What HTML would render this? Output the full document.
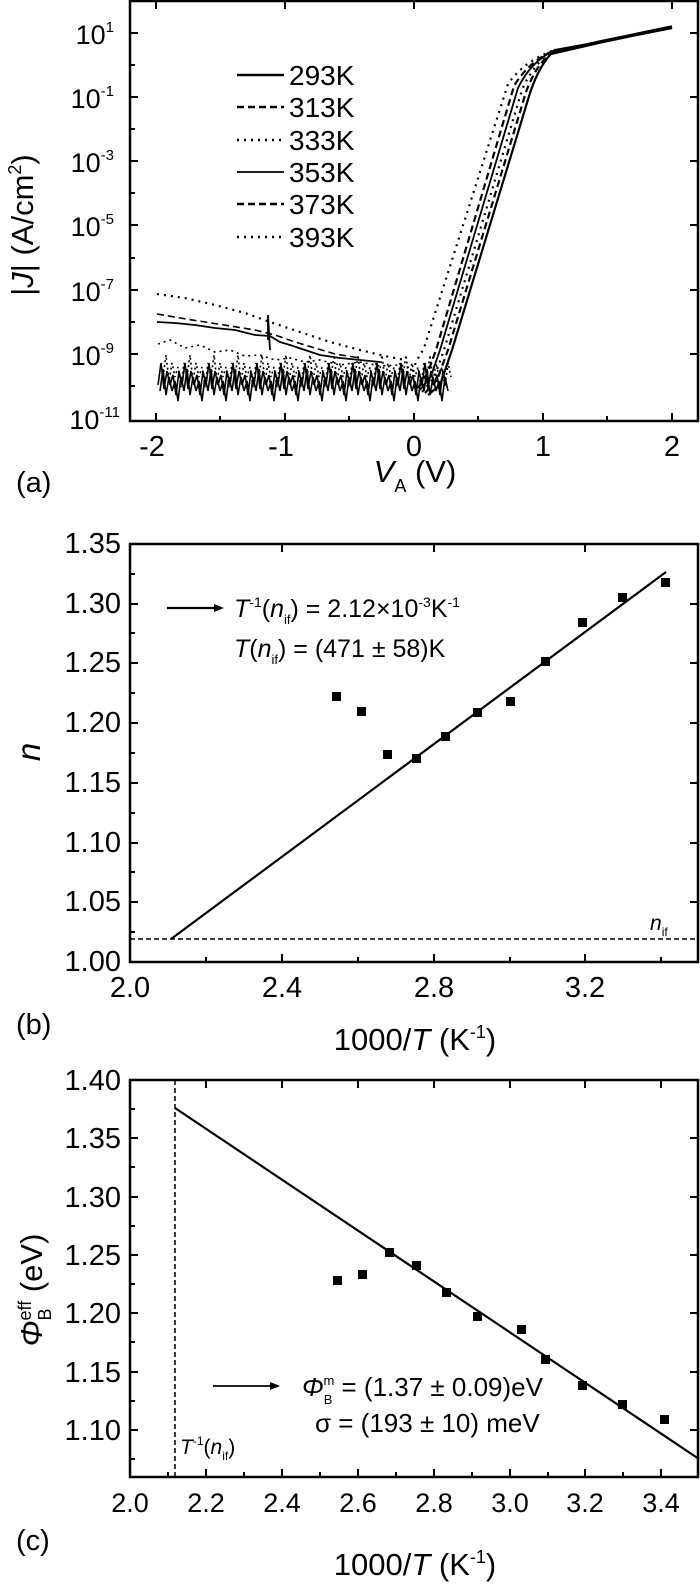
<!DOCTYPE html>
<html><head><meta charset="utf-8"><style>
html,body{margin:0;padding:0;background:#fff;}
svg{display:block;font-family:"Liberation Sans",Arial,sans-serif;}
</style></head><body>
<svg width="700" height="1587" viewBox="0 0 700 1587" xmlns="http://www.w3.org/2000/svg">
<!-- ===== Panel (a) ===== -->
<rect x="130" y="1" width="568" height="420" fill="none" stroke="#000" stroke-width="2.5"/>
<g stroke="#000" stroke-width="2">
<line x1="156" y1="421" x2="156" y2="413"/><line x1="285" y1="421" x2="285" y2="413"/><line x1="414" y1="421" x2="414" y2="413"/><line x1="543" y1="421" x2="543" y2="413"/><line x1="672" y1="421" x2="672" y2="413"/>
<line x1="220" y1="421" x2="220" y2="416"/><line x1="349" y1="421" x2="349" y2="416"/><line x1="478" y1="421" x2="478" y2="416"/><line x1="607" y1="421" x2="607" y2="416"/>
<line x1="156" y1="1" x2="156" y2="9"/><line x1="285" y1="1" x2="285" y2="9"/><line x1="414" y1="1" x2="414" y2="9"/><line x1="543" y1="1" x2="543" y2="9"/><line x1="672" y1="1" x2="672" y2="9"/>
<line x1="130" y1="33" x2="138" y2="33"/><line x1="130" y1="97" x2="138" y2="97"/><line x1="130" y1="161" x2="138" y2="161"/><line x1="130" y1="225" x2="138" y2="225"/><line x1="130" y1="290" x2="138" y2="290"/><line x1="130" y1="354" x2="138" y2="354"/>
<line x1="130" y1="65" x2="135" y2="65"/><line x1="130" y1="129" x2="135" y2="129"/><line x1="130" y1="193" x2="135" y2="193"/><line x1="130" y1="258" x2="135" y2="258"/><line x1="130" y1="322" x2="135" y2="322"/><line x1="130" y1="386" x2="135" y2="386"/>
<line x1="698" y1="33" x2="690" y2="33"/><line x1="698" y1="97" x2="690" y2="97"/><line x1="698" y1="161" x2="690" y2="161"/><line x1="698" y1="225" x2="690" y2="225"/><line x1="698" y1="290" x2="690" y2="290"/><line x1="698" y1="354" x2="690" y2="354"/>
</g>
<g font-size="27" fill="#000" text-anchor="end">
<text x="114" y="44">10<tspan font-size="15" dy="-12">1</tspan></text>
<text x="114" y="108">10<tspan font-size="15" dy="-12">-1</tspan></text>
<text x="114" y="172">10<tspan font-size="15" dy="-12">-3</tspan></text>
<text x="114" y="236">10<tspan font-size="15" dy="-12">-5</tspan></text>
<text x="114" y="301">10<tspan font-size="15" dy="-12">-7</tspan></text>
<text x="114" y="365">10<tspan font-size="15" dy="-12">-9</tspan></text>
<text x="120" y="429">10<tspan font-size="15" dy="-12">-11</tspan></text>
</g>
<g font-size="29" fill="#000" text-anchor="middle">
<text x="152" y="456">-2</text><text x="281" y="456">-1</text><text x="414" y="456">0</text><text x="543" y="456">1</text><text x="672" y="456">2</text>
</g>
<text x="16" y="492" font-size="29">(a)</text>
<text x="415" y="482" font-size="31" text-anchor="middle"><tspan font-style="italic">V</tspan><tspan font-size="18" dy="10">A</tspan><tspan dy="-10"> (V)</tspan></text>
<text transform="translate(33,225) rotate(-90)" font-size="31" text-anchor="middle">|<tspan font-style="italic">J</tspan>| (A/cm<tspan font-size="18" dy="-12">2</tspan><tspan dy="12">)</tspan></text>
<g stroke="#000" stroke-width="2.5">
<line x1="237" y1="75" x2="284" y2="75"/>
<line x1="237" y1="107" x2="284" y2="107" stroke-dasharray="7,4"/>
<line x1="237" y1="140" x2="284" y2="140" stroke-dasharray="2,5"/>
<line x1="237" y1="172" x2="284" y2="172" stroke-width="1.8"/>
<line x1="237" y1="204" x2="284" y2="204" stroke-dasharray="7,4"/>
<line x1="237" y1="237" x2="284" y2="237" stroke-dasharray="2,5"/>
</g>
<g font-size="28" fill="#000">
<text x="289" y="85">293K</text><text x="289" y="117">313K</text><text x="289" y="150">333K</text><text x="289" y="182">353K</text><text x="289" y="214">373K</text><text x="289" y="247">393K</text>
</g>
<g fill="none" stroke="#000" stroke-width="2.2">
<path d="M428,395 L440,385 L452,350 L530,93 Q540,63 555,50 L600,42 L672,28"/>
<path d="M425,393 L437,380 L448,350 L526,92 Q537,62 555,50" stroke-dasharray="7,4"/>
<path d="M422,392 L434,378 L444,350 L522,90 Q534,62 555,50" stroke-dasharray="2,5"/>
<path d="M420,390 L431,376 L440,350 L518,88 Q531,61 555,50" stroke-width="1.8"/>
<path d="M418,388 L428,372 L436,350 L514,86 Q529,61 555,50" stroke-dasharray="7,4"/>
<path d="M410,378 L416,362 L424,348 L508,84 Q525,60 555,50" stroke-dasharray="2,5"/>
<path d="M548,54 L600,42 L672,27" stroke-width="3.5"/>
</g>
<g fill="none" stroke="#000" stroke-width="1.6">
<path id="nz" d="M158,385 l3,-22 l3,26 l3,-18 l3,14 l3,-10 l3,20 l3,-24 l3,14 l3,-22 l3,26 l3,-18 l3,14 l3,-10 l3,20 l3,-24 l3,14 l3,-22 l3,26 l3,-18 l3,14 l3,-10 l3,20 l3,-24 l3,14 l3,-22 l3,26 l3,-18 l3,14 l3,-10 l3,20 l3,-24 l3,14 l3,-22 l3,26 l3,-18 l3,14 l3,-10 l3,20 l3,-24 l3,14 l3,-22 l3,26 l3,-18 l3,14 l3,-10 l3,20 l3,-24 l3,14 l3,-22 l3,26 l3,-18 l3,14 l3,-10 l3,20 l3,-24 l3,14 l3,-22 l3,26 l3,-18 l3,14 l3,-10 l3,20 l3,-24 l3,14 l3,-22 l3,26 l3,-18 l3,14 l3,-10 l3,20 l3,-24 l3,14 l3,-22 l3,26 l3,-18 l3,14 l3,-10 l3,20 l3,-24 l3,14 l3,-22 l3,26 l3,-18 l3,14 l3,-10 l3,20 l3,-24 l3,14 l3,-22 l3,26 l3,-18 l3,14 l3,-10 l3,20 l3,-24 l3,14"/>
<use href="#nz" transform="translate(2,6)"/>
<use href="#nz" transform="translate(5,-8)" stroke-dasharray="2,3"/>
<path d="M158,344 L170,340 L185,348 L200,345 L215,352 L230,350 L245,356 L260,355 L275,360 L290,358 L305,362 L320,360 L340,365 L360,362 L380,366 L400,365 L412,368" stroke-dasharray="2,4"/>
<path d="M157,322 L175,323 L195,325 L215,328 L235,330 L255,335 L270,336 L280,342 L290,345 L305,350 L320,355 L340,358 L360,360 L380,362" stroke-width="1.8"/>
<path d="M268,340 l0,-25 l2,35" stroke-width="1.8"/>
<path d="M157,314 L180,318 L205,322 L230,326 L255,330 L275,335 L295,342 L315,348 L335,354 L360,358" stroke-dasharray="7,4"/>
<path d="M157,294 L185,298 L215,305 L245,313 L270,322 L300,332 L330,342 L360,350 L385,356 L405,360" stroke-dasharray="2,5" stroke-width="2.2"/>
</g>

<!-- ===== Panel (b) ===== -->
<rect x="130" y="544" width="568" height="418" fill="none" stroke="#000" stroke-width="2.5"/>
<g stroke="#000" stroke-width="2">
<line x1="130" y1="604" x2="138" y2="604"/><line x1="130" y1="663" x2="138" y2="663"/><line x1="130" y1="723" x2="138" y2="723"/><line x1="130" y1="783" x2="138" y2="783"/><line x1="130" y1="843" x2="138" y2="843"/><line x1="130" y1="902" x2="138" y2="902"/>
<line x1="130" y1="574" x2="135" y2="574"/><line x1="130" y1="633" x2="135" y2="633"/><line x1="130" y1="693" x2="135" y2="693"/><line x1="130" y1="753" x2="135" y2="753"/><line x1="130" y1="813" x2="135" y2="813"/><line x1="130" y1="872" x2="135" y2="872"/><line x1="130" y1="932" x2="135" y2="932"/>
<line x1="698" y1="604" x2="690" y2="604"/><line x1="698" y1="663" x2="690" y2="663"/><line x1="698" y1="723" x2="690" y2="723"/><line x1="698" y1="783" x2="690" y2="783"/><line x1="698" y1="843" x2="690" y2="843"/><line x1="698" y1="902" x2="690" y2="902"/>
<line x1="282" y1="962" x2="282" y2="954"/><line x1="434" y1="962" x2="434" y2="954"/><line x1="585" y1="962" x2="585" y2="954"/>
<line x1="206" y1="962" x2="206" y2="957"/><line x1="358" y1="962" x2="358" y2="957"/><line x1="510" y1="962" x2="510" y2="957"/><line x1="661" y1="962" x2="661" y2="957"/>
<line x1="282" y1="544" x2="282" y2="552"/><line x1="434" y1="544" x2="434" y2="552"/><line x1="585" y1="544" x2="585" y2="552"/>
</g>
<g font-size="29" fill="#000" text-anchor="end">
<text x="121" y="553">1.35</text><text x="121" y="613">1.30</text><text x="121" y="672">1.25</text><text x="121" y="732">1.20</text><text x="121" y="792">1.15</text><text x="121" y="852">1.10</text><text x="121" y="911">1.05</text><text x="121" y="971">1.00</text>
</g>
<g font-size="29" fill="#000" text-anchor="middle">
<text x="130" y="997">2.0</text><text x="282" y="997">2.4</text><text x="434" y="997">2.8</text><text x="585" y="997">3.2</text>
</g>
<text x="16" y="1034" font-size="29">(b)</text>
<text x="415" y="1050" font-size="31" text-anchor="middle">1000/<tspan font-style="italic">T</tspan> (K<tspan font-size="18" dy="-12">-1</tspan><tspan dy="12">)</tspan></text>
<text transform="translate(40,752) rotate(-90)" font-size="33" font-style="italic" text-anchor="middle">n</text>
<line x1="130" y1="939" x2="698" y2="939" stroke="#000" stroke-width="1.5" stroke-dasharray="5,3"/>
<text x="650" y="930" font-size="21" font-style="italic">n<tspan font-size="12" dy="6" font-style="normal">if</tspan></text>
<line x1="171" y1="939" x2="666" y2="572" stroke="#000" stroke-width="2.2"/>
<g fill="#000">
<rect x="332" y="692" width="9" height="9"/><rect x="357" y="707" width="9" height="9"/><rect x="383" y="750" width="9" height="9"/><rect x="412" y="754" width="9" height="9"/><rect x="441" y="732" width="9" height="9"/><rect x="473" y="708" width="9" height="9"/><rect x="506" y="697" width="9" height="9"/><rect x="541" y="657" width="9" height="9"/><rect x="578" y="618" width="9" height="9"/><rect x="618" y="593" width="9" height="9"/><rect x="661" y="578" width="9" height="9"/>
</g>
<line x1="167" y1="608" x2="216" y2="608" stroke="#000" stroke-width="2.2"/>
<polygon points="224,608 214,604 214,612" fill="#000"/>
<text x="234" y="617" font-size="25"><tspan font-style="italic">T</tspan><tspan font-size="14" dy="-10">-1</tspan><tspan dy="10">(</tspan><tspan font-style="italic">n</tspan><tspan font-size="13" dy="7">if</tspan><tspan dy="-7">) = 2.12×10</tspan><tspan font-size="14" dy="-10">-3</tspan><tspan dy="10">K</tspan><tspan font-size="14" dy="-10">-1</tspan></text>
<text x="234" y="657" font-size="25"><tspan font-style="italic">T</tspan>(<tspan font-style="italic">n</tspan><tspan font-size="13" dy="7">if</tspan><tspan dy="-7">) = (471 ± 58)K</tspan></text>

<!-- ===== Panel (c) ===== -->
<rect x="130" y="1080" width="568" height="397" fill="none" stroke="#000" stroke-width="2.5"/>
<g stroke="#000" stroke-width="2">
<line x1="130" y1="1138" x2="138" y2="1138"/><line x1="130" y1="1197" x2="138" y2="1197"/><line x1="130" y1="1255" x2="138" y2="1255"/><line x1="130" y1="1313" x2="138" y2="1313"/><line x1="130" y1="1372" x2="138" y2="1372"/><line x1="130" y1="1430" x2="138" y2="1430"/>
<line x1="130" y1="1109" x2="135" y2="1109"/><line x1="130" y1="1167" x2="135" y2="1167"/><line x1="130" y1="1226" x2="135" y2="1226"/><line x1="130" y1="1284" x2="135" y2="1284"/><line x1="130" y1="1342" x2="135" y2="1342"/><line x1="130" y1="1401" x2="135" y2="1401"/><line x1="130" y1="1459" x2="135" y2="1459"/>
<line x1="698" y1="1138" x2="690" y2="1138"/><line x1="698" y1="1197" x2="690" y2="1197"/><line x1="698" y1="1255" x2="690" y2="1255"/><line x1="698" y1="1313" x2="690" y2="1313"/><line x1="698" y1="1372" x2="690" y2="1372"/><line x1="698" y1="1430" x2="690" y2="1430"/>
<line x1="206" y1="1477" x2="206" y2="1469"/><line x1="282" y1="1477" x2="282" y2="1469"/><line x1="358" y1="1477" x2="358" y2="1469"/><line x1="434" y1="1477" x2="434" y2="1469"/><line x1="510" y1="1477" x2="510" y2="1469"/><line x1="585" y1="1477" x2="585" y2="1469"/><line x1="661" y1="1477" x2="661" y2="1469"/>
<line x1="168" y1="1477" x2="168" y2="1472"/><line x1="244" y1="1477" x2="244" y2="1472"/><line x1="320" y1="1477" x2="320" y2="1472"/><line x1="396" y1="1477" x2="396" y2="1472"/><line x1="472" y1="1477" x2="472" y2="1472"/><line x1="548" y1="1477" x2="548" y2="1472"/><line x1="623" y1="1477" x2="623" y2="1472"/>
<line x1="206" y1="1080" x2="206" y2="1088"/><line x1="282" y1="1080" x2="282" y2="1088"/><line x1="358" y1="1080" x2="358" y2="1088"/><line x1="434" y1="1080" x2="434" y2="1088"/><line x1="510" y1="1080" x2="510" y2="1088"/><line x1="585" y1="1080" x2="585" y2="1088"/><line x1="661" y1="1080" x2="661" y2="1088"/>
</g>
<g font-size="29" fill="#000" text-anchor="end">
<text x="121" y="1090">1.40</text><text x="121" y="1148">1.35</text><text x="121" y="1207">1.30</text><text x="121" y="1265">1.25</text><text x="121" y="1323">1.20</text><text x="121" y="1382">1.15</text><text x="121" y="1440">1.10</text>
</g>
<g font-size="27" fill="#000" text-anchor="middle">
<text x="130" y="1512">2.0</text><text x="206" y="1512">2.2</text><text x="282" y="1512">2.4</text><text x="358" y="1512">2.6</text><text x="434" y="1512">2.8</text><text x="510" y="1512">3.0</text><text x="585" y="1512">3.2</text><text x="661" y="1512">3.4</text>
</g>
<text x="16" y="1550" font-size="29">(c)</text>
<text x="415" y="1575" font-size="31" text-anchor="middle">1000/<tspan font-style="italic">T</tspan> (K<tspan font-size="18" dy="-12">-1</tspan><tspan dy="12">)</tspan></text>
<text transform="translate(42,1290) rotate(-90)" font-size="31" text-anchor="middle"><tspan font-style="italic">Φ</tspan><tspan font-size="18" dy="9">B</tspan><tspan font-size="18" dy="-20" dx="-12">eff</tspan><tspan dy="11"> (eV)</tspan></text>
<line x1="175" y1="1080" x2="175" y2="1477" stroke="#000" stroke-width="1.5" stroke-dasharray="5,3"/>
<line x1="175" y1="1108" x2="699" y2="1459" stroke="#000" stroke-width="2.2"/>
<g fill="#000">
<rect x="333" y="1276" width="9" height="9"/><rect x="358" y="1270" width="9" height="9"/><rect x="385" y="1248" width="9" height="9"/><rect x="412" y="1261" width="9" height="9"/><rect x="442" y="1288" width="9" height="9"/><rect x="473" y="1312" width="9" height="9"/><rect x="517" y="1325" width="9" height="9"/><rect x="541" y="1355" width="9" height="9"/><rect x="578" y="1381" width="9" height="9"/><rect x="618" y="1400" width="9" height="9"/><rect x="660" y="1415" width="9" height="9"/>
</g>
<line x1="213" y1="1386" x2="272" y2="1386" stroke="#000" stroke-width="1.8"/>
<polygon points="280,1386 270,1382 270,1390" fill="#000"/>
<text x="302" y="1396" font-size="26"><tspan font-style="italic">Φ</tspan><tspan font-size="13" dy="8">B</tspan><tspan font-size="13" dy="-19" dx="-9">m</tspan><tspan dy="11"> = (1.37 ± 0.09)eV</tspan></text>
<text x="315" y="1432" font-size="26">σ = (193 ± 10) meV</text>
<text x="180" y="1454" font-size="21"><tspan font-style="italic">T</tspan><tspan font-size="12" dy="-9">-1</tspan><tspan dy="9">(</tspan><tspan font-style="italic">n</tspan><tspan font-size="12" dy="6">if</tspan><tspan dy="-6">)</tspan></text>
</svg>
</body></html>
